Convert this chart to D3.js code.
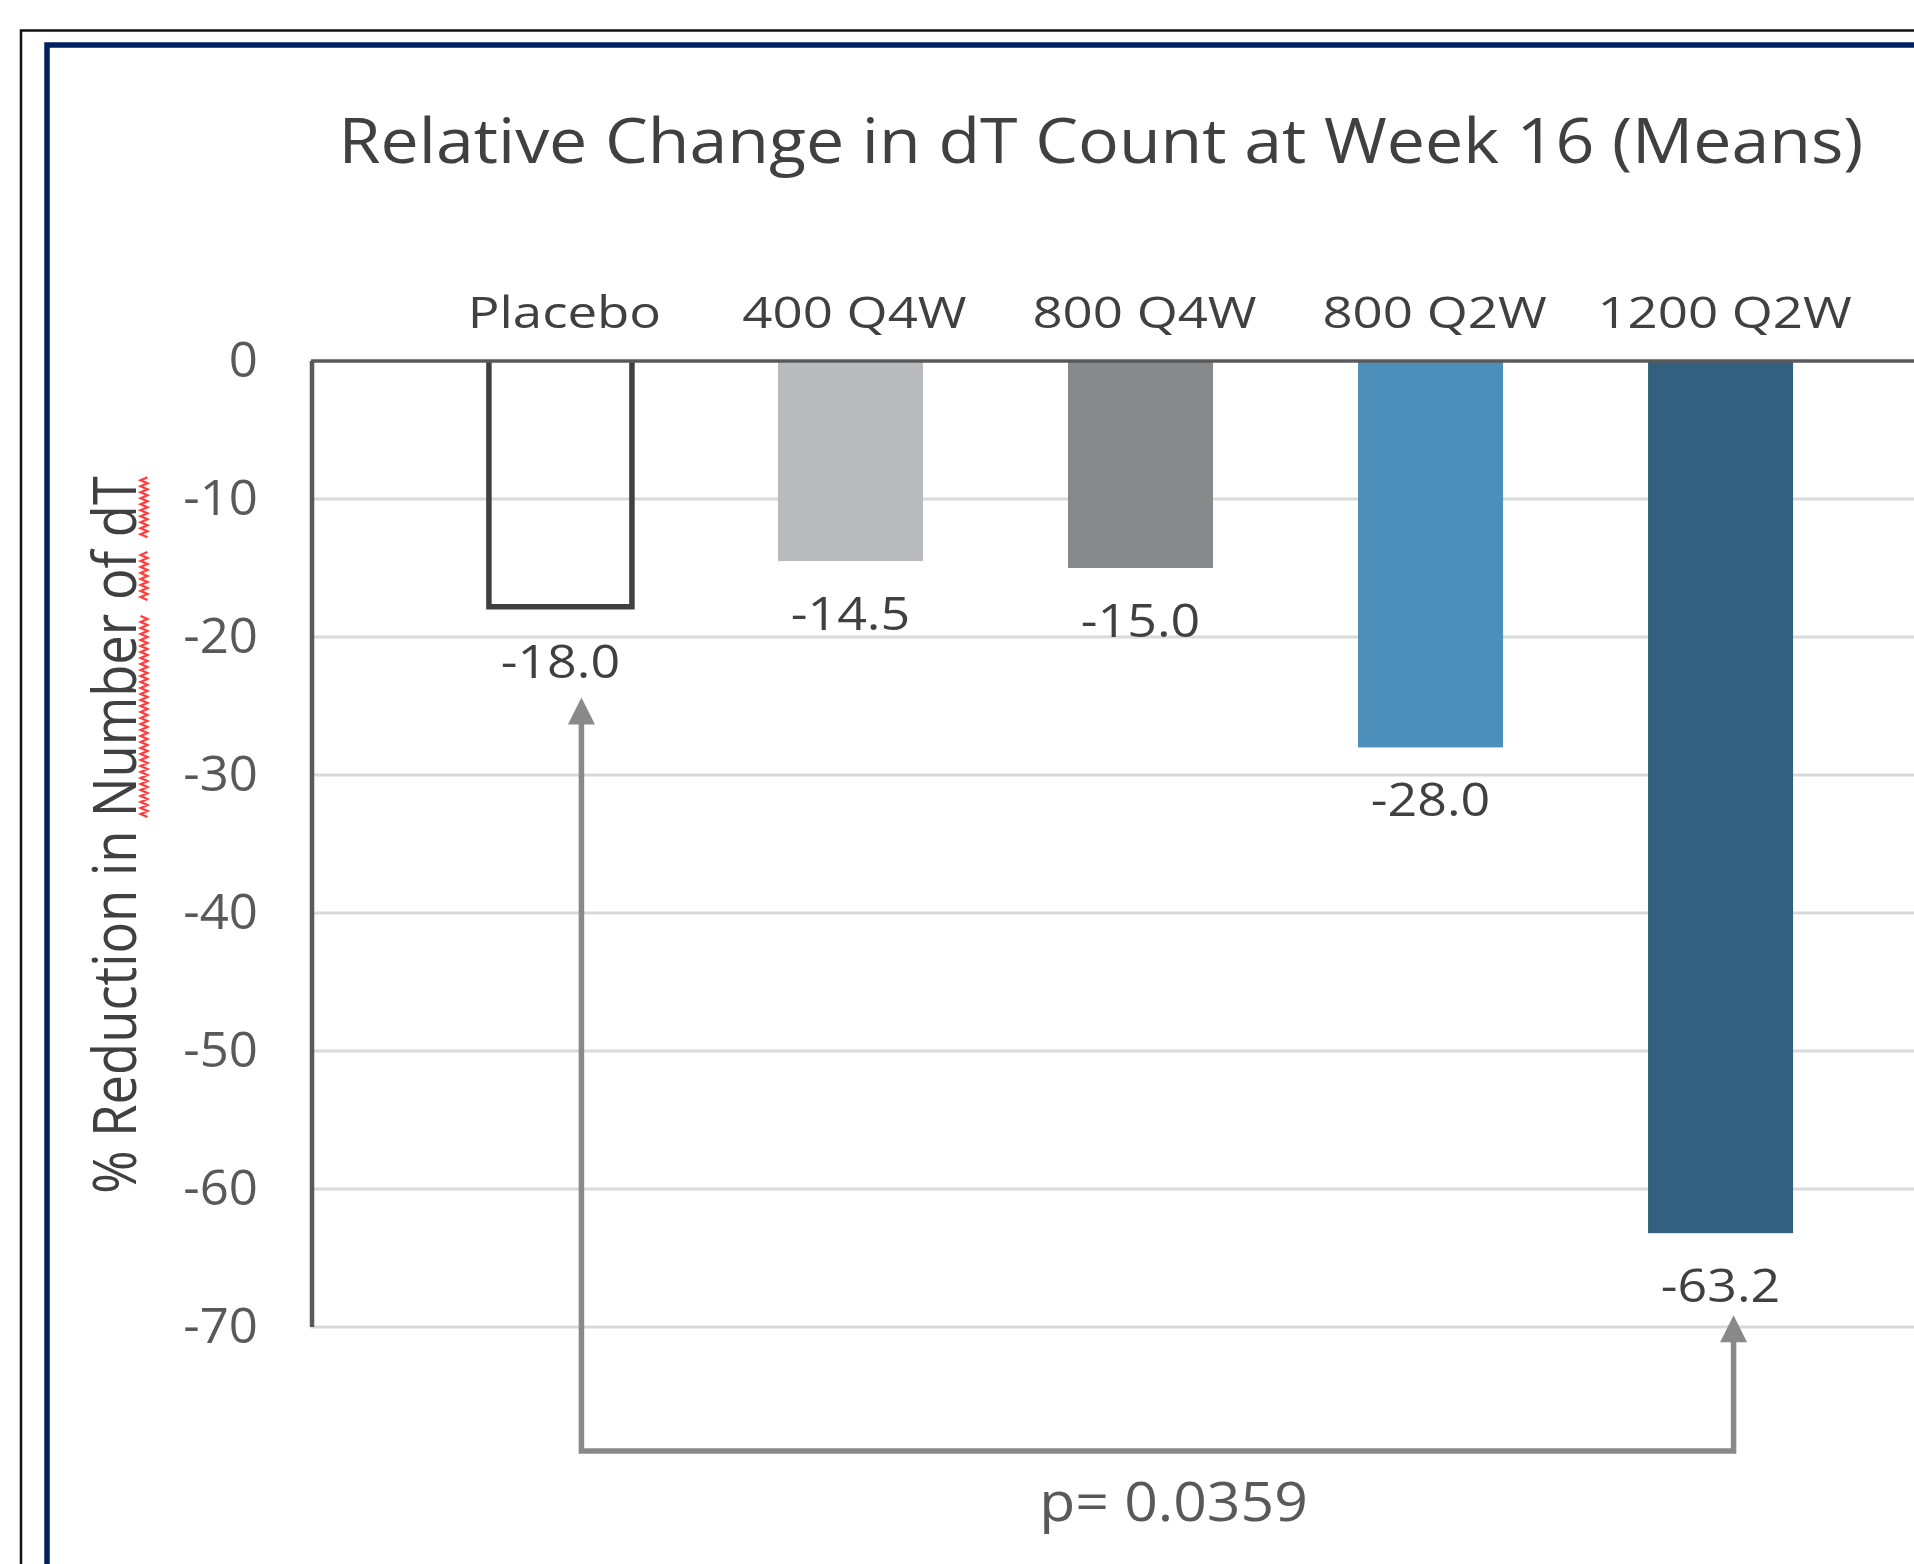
<!DOCTYPE html>
<html>
<head>
<meta charset="utf-8">
<script src="https://cdn.jsdelivr.net/npm/d3@7"></script>
<style>
  body { margin: 0; background: #fff; }
  text { font-family: "Open Sans", sans-serif; }
</style>
</head>
<body>
<div id="chart"></div>
<script>
// data
const categories = ["Placebo", "400 Q4W", "800 Q4W", "800 Q2W", "1200 Q2W"];
const meanChange = [-18.0, -14.5, -15.0, -28.0, -63.2];
const barColors = ["none", "#babbbd", "#88898b", "#4d8fbb", "#32607e"];
const yTicks = [0, -10, -20, -30, -40, -50, -60, -70];
const comparison = ["Placebo", "1200 Q2W"];
const pValueLabel = "p= 0.0359";
const chartTitle = "Relative Change in dT Count at Week 16 (Means)";
const yTitle = "% Reduction in Number of dT";
const flaggedWords = ["Number", "of", "dT"];

const width = 1914, height = 1564;
const plot = {left: 311, right: 1970, top: 361, bottom: 1327};

const svg = d3.select("#chart").append("svg")
    .attr("width", width)
    .attr("height", height);

svg.append("rect").attr("width", width).attr("height", height).attr("fill", "#fff");

// frames, cut off at right and bottom like the screenshot
svg.append("path")
    .attr("d", `M21,${height + 5} V30.5 H${width + 5}`)
    .attr("fill", "none").attr("stroke", "#111").attr("stroke-width", 2.5);
svg.append("path")
    .attr("d", `M47,${height + 5} V45 H${width + 5}`)
    .attr("fill", "none").attr("stroke", "#002060").attr("stroke-width", 5.5);

// scales
const x = d3.scaleBand()
    .domain(categories)
    .range([plot.left, plot.right])
    .paddingInner(0.5)
    .paddingOuter(0.61);

const y = d3.scaleLinear()
    .domain([0, -70])
    .range([plot.top, plot.bottom]);

const bw = x.bandwidth();
const cx = c => x(c) + bw / 2;

// text that is a little wider than the font, as in the screenshot
function wideText(parent, tx, ty, sx) {
    return parent.append("g")
        .attr("transform", `translate(${tx},${ty}) scale(${sx},1)`)
        .append("text");
}

// title
wideText(svg, 1101, 163, 1.08)
    .text(chartTitle)
    .attr("text-anchor", "middle")
    .attr("font-size", 63)
    .attr("fill", "#404040");

// gridlines
svg.append("g")
    .selectAll("line")
    .data(yTicks.filter(d => d !== 0))
    .enter()
    .append("line")
    .attr("x1", plot.left)
    .attr("x2", plot.right)
    .attr("y1", d => y(d))
    .attr("y2", d => y(d))
    .attr("stroke", "#d9d9d9")
    .attr("stroke-width", 3);

// bars
const data = categories.map((c, i) => ({cat: c, value: meanChange[i], color: barColors[i]}));

svg.append("g")
    .selectAll("rect")
    .data(data.filter(d => d.color !== "none"))
    .enter()
    .append("rect")
    .attr("x", d => x(d.cat))
    .attr("y", y(0))
    .attr("width", bw)
    .attr("height", d => y(d.value) - y(0))
    .attr("fill", d => d.color);

// placebo is an open outline with no top edge
const sw = 5.5;
svg.append("g")
    .selectAll("path")
    .data(data.filter(d => d.color === "none"))
    .enter()
    .append("path")
    .attr("d", d => {
        let x0 = x(d.cat) + 1, x1 = x(d.cat) + bw - 1, yb = y(d.value) - sw / 2;
        return `M${x0},${y(0)} V${yb} H${x1} V${y(0)}`;
    })
    .attr("fill", "none")
    .attr("stroke", "#404040")
    .attr("stroke-width", sw);

// axis lines
svg.append("line")
    .attr("x1", plot.left).attr("x2", plot.right)
    .attr("y1", y(0)).attr("y2", y(0))
    .attr("stroke", "#595959").attr("stroke-width", 3.5);
svg.append("line")
    .attr("x1", plot.left + 1).attr("x2", plot.left + 1)
    .attr("y1", y(0)).attr("y2", y(-70))
    .attr("stroke", "#595959").attr("stroke-width", 4.5);

// y tick labels
const yAxis = svg.append("g")
    .attr("transform", `translate(${plot.left},0)`)
    .call(d3.axisLeft(y).tickValues(yTicks).tickSize(0).tickFormat(d => String(d)));
yAxis.select(".domain").remove();
yAxis.selectAll("text")
    .attr("x", -51)
    .attr("dy", "0.32em")
    .attr("transform", "scale(1.04,1)")
    .attr("font-size", 49)
    .attr("font-family", "Open Sans")
    .attr("fill", "#595959");

// category labels
categories.forEach(c => {
    wideText(svg, cx(c) + 4, plot.top - 33, 1.2)
        .text(c)
        .attr("text-anchor", "middle")
        .attr("font-size", 44)
        .attr("fill", "#404040");
});

// value labels
data.forEach(d => {
    wideText(svg, cx(d.cat), y(d.value) + 69, 1.13)
        .text(d.value.toFixed(1))
        .attr("text-anchor", "middle")
        .attr("font-size", 46)
        .attr("fill", "#404040");
});

// y axis title with the spell-check squiggle under it
const yt = svg.append("g")
    .attr("transform", "translate(136,835) rotate(-90) scale(1,1.15)");
const ytText = yt.append("text")
    .text(yTitle)
    .attr("text-anchor", "middle")
    .attr("font-size", 52.5)
    .attr("fill", "#404040");

const node = ytText.node();
flaggedWords.forEach(w => {
    let i0 = yTitle.indexOf(w), i1 = i0 + w.length - 1;
    let s = node.getStartPositionOfChar(i0).x, e = node.getEndPositionOfChar(i1).x;
    let pts = [], k = 0;
    for (let px = s; px <= e; px += 3, k++) pts.push([px, k % 2 ? 4 : 10]);
    yt.append("path")
        .attr("d", d3.line()(pts))
        .attr("fill", "none")
        .attr("stroke", "#ff4040")
        .attr("stroke-width", 2.2);
});

// comparison bracket
const arrowLen = 27, arrowHalf = 13.5;
const ia = categories.indexOf(comparison[0]), ib = categories.indexOf(comparison[1]);
const xa = cx(comparison[0]) + 21, xb = cx(comparison[1]) + 13;
const tipA = y(meanChange[ia]) + 88, tipB = y(meanChange[ib]) + 82;
const bracketY = plot.bottom + 124;

svg.append("path")
    .attr("d", `M${xa},${tipA + arrowLen - 2} V${bracketY} H${xb} V${tipB + arrowLen - 2}`)
    .attr("fill", "none")
    .attr("stroke", "#898989")
    .attr("stroke-width", 5.5);

[[xa, tipA], [xb, tipB]].forEach(([ax, ay]) => {
    svg.append("path")
        .attr("d", `M${ax},${ay} L${ax - arrowHalf},${ay + arrowLen} L${ax + arrowHalf},${ay + arrowLen} Z`)
        .attr("fill", "#898989");
});

wideText(svg, (xa + xb) / 2 + 16, bracketY + 70, 1.07)
    .text(pValueLabel)
    .attr("text-anchor", "middle")
    .attr("font-size", 55)
    .attr("fill", "#595959");
</script>
</body>
</html>
